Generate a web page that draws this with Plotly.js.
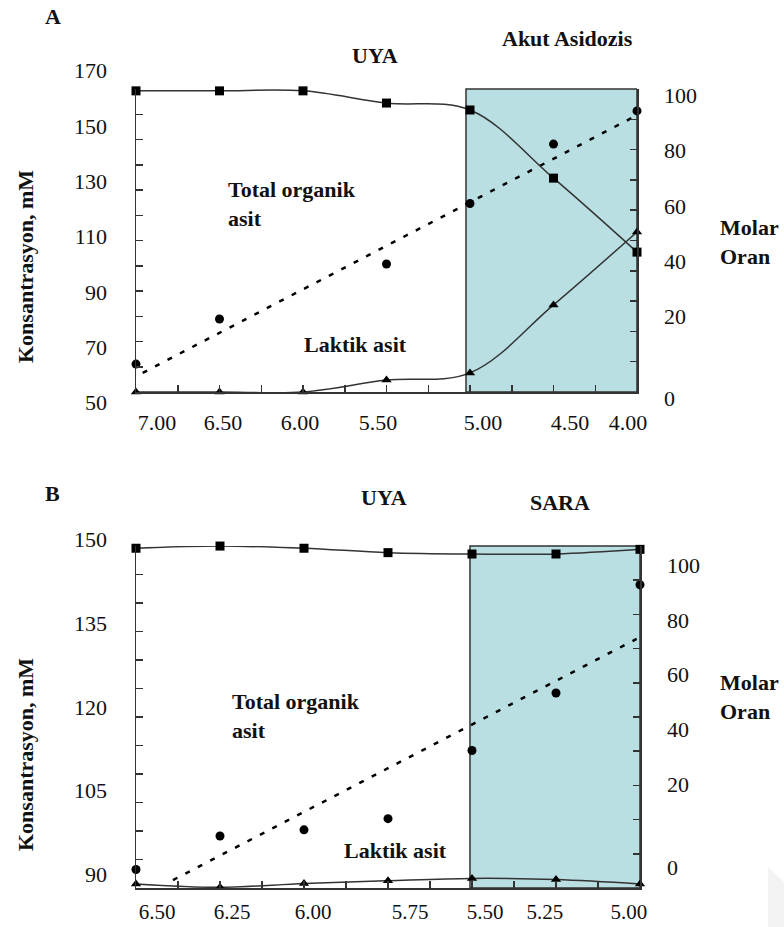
<!DOCTYPE html>
<html><head><meta charset="utf-8">
<script src="https://cdn.plot.ly/plotly-3.0.1.min.js"></script>
<style>html,body{margin:0;padding:0;background:#fff}#chart{width:784px;height:927px}</style>
</head><body><div id="chart"></div>
<script>
// ---------- Panel A ----------
const phA = [7.0, 6.5, 6.0, 5.5, 5.0, 4.5, 4.0];
const totalA = [63.9, 80.2, null, 100.1, 122.0, 143.5, 155.5];
const lacticA = [53.8, 53.8, 53.8, 58.1, 60.7, 85.3, 111.7];
const molarA = [101.5, 101.5, 101.5, 97.1, 94.6, 70.0, 43.3];
const trendXA = [6.96, 4.02];
const trendYA = [60.7, 153.3];
const xTickTextA = ['7.00', '6.50', '6.00', '5.50', '5.00', '4.50', '4.00'];
const leftTicksA = [50, 70, 90, 110, 130, 150, 170];
const rightTickTextA = ['0', '20', '40', '60', '80', '100'];
// ---------- Panel B ----------
const phB = [6.50, 6.25, 6.00, 5.75, 5.50, 5.25, 5.00];
const totalB = [90.9, 96.9, 98.0, 100.0, 112.2, 122.5, 141.9];
const lacticB = [88.3, 87.7, 88.4, 88.9, 89.3, 89.1, 88.3];
const molarB = [106.1, 106.9, 106.1, 104.5, 104.0, 104.0, 105.7];
const trendXB = [6.39, 5.01];
const trendYB = [89.0, 132.2];
const xTickTextB = ['6.50', '6.25', '6.00', '5.75', '5.50', '5.25', '5.00'];
const leftTicksB = [90, 105, 120, 135, 150];
const rightTickTextB = ['0', '20', '40', '60', '80', '100'];

const W = 784, H = 927;
const fx = p => p / W;
const fy = p => 1 - p / H;
const SERIF = 'Liberation Serif, Times New Roman, DejaVu Serif, serif';
const INK = '#333333';

function frameY(range, n, extra) {
  return Object.assign({
    range: range, showline: true, linecolor: INK, linewidth: 1.5,
    ticks: 'inside', ticklen: 7, tickwidth: 1.5, tickcolor: INK,
    tickmode: 'linear', tick0: range[0], dtick: (range[1] - range[0]) / n,
    showticklabels: false, showgrid: false, zeroline: false, fixedrange: true
  }, extra);
}
function frameX(range, dtick, extra) {
  return Object.assign({
    range: range, showline: true, linecolor: INK, linewidth: 1.5,
    ticks: 'inside', ticklen: 7, tickwidth: 1.5, tickcolor: INK,
    tickmode: 'linear', tick0: range[1], dtick: dtick,
    showticklabels: false, showgrid: false, zeroline: false, fixedrange: true
  }, extra);
}
function labelAxis(range, extra) {
  return Object.assign({
    range: range, showline: false, ticks: '', showgrid: false, zeroline: false,
    tickmode: 'array', tickfont: {family: SERIF, size: 22, color: '#111'},
    fixedrange: true
  }, extra);
}

const markerCol = '#000';
function traces(ph, total, lactic, molar, tx, ty, xa, ya, ya2) {
  return [
    {x: tx, y: ty, xaxis: xa, yaxis: ya, mode: 'lines', type: 'scatter',
     line: {color: '#000', width: 2.5, dash: '5px,9px'}, hoverinfo: 'skip', cliponaxis: false},
    {x: ph, y: total, xaxis: xa, yaxis: ya, mode: 'markers', type: 'scatter',
     marker: {symbol: 'circle', size: 9, color: markerCol}, cliponaxis: false},
    {x: ph, y: lactic, xaxis: xa, yaxis: ya, mode: 'lines+markers', type: 'scatter',
     line: {color: INK, width: 1.5, shape: 'spline', smoothing: 1},
     marker: {symbol: 'triangle-up', size: 9, color: markerCol}, cliponaxis: false},
    {x: ph, y: molar, xaxis: xa, yaxis: ya2, mode: 'lines+markers', type: 'scatter',
     line: {color: INK, width: 1.5, shape: 'spline', smoothing: 1},
     marker: {symbol: 'square', size: 9, color: markerCol}, cliponaxis: false}
  ];
}
// placeholder traces so the label-only axes get drawn (no visible marks)
function holder(xa, ya) {
  return {x: [null], y: [null], xaxis: xa, yaxis: ya, mode: 'markers', type: 'scatter',
          marker: {size: 1, opacity: 0}, hoverinfo: 'skip'};
}

const data = [].concat(
  traces(phA, totalA, lacticA, molarA, trendXA, trendYA, 'x', 'y', 'y2'),
  traces(phB, totalB, lacticB, molarB, trendXB, trendYB, 'x3', 'y5', 'y6'),
  [holder('x2', 'y3'), holder('x2', 'y4'), holder('x4', 'y7'), holder('x4', 'y8')]
);

function ann(text, px, py, opts) {
  return Object.assign({
    text: text, x: fx(px), y: fy(py), xref: 'paper', yref: 'paper',
    showarrow: false, xanchor: 'center', yanchor: 'middle',
    font: {family: SERIF, size: 22, color: '#111', weight: 'bold'}
  }, opts || {});
}

const layout = {
  width: W, height: H,
  margin: {l: 0, r: 0, t: 0, b: 0},
  paper_bgcolor: '#fff', plot_bgcolor: 'rgba(0,0,0,0)',
  showlegend: false,
  font: {family: SERIF, size: 22, color: '#111'},
  // Panel A frame (data axes)
  xaxis: frameX([7, 4], 0.25, {domain: [fx(136), fx(637)], anchor: 'y'}),
  yaxis: frameY([53.79, 163.42], 12, {domain: [fy(392), fy(89)], anchor: 'x'}),
  yaxis2: frameY([-7.18, 102.17], 10, {domain: [fy(392), fy(89)], anchor: 'x', overlaying: 'y', side: 'right'}),
  // Panel A labels
  xaxis2: labelAxis([7, 4], {domain: [fx(136), fx(637)], anchor: 'y3',
    tickvals: [6.874, 6.479, 6.018, 5.551, 4.922, 4.401, 4.054], ticktext: xTickTextA, ticklabelstandoff: 3}),
  yaxis3: labelAxis([49.45, 173.18], {domain: [fy(404), fy(62)], anchor: 'x2',
    tickvals: leftTicksA, ticktext: leftTicksA.map(String), ticklabelstandoff: 28}),
  yaxis4: labelAxis([-11.51, 111.91], {domain: [fy(404), fy(62)], anchor: 'x2', overlaying: 'y3', side: 'right',
    tickvals: [-9.35, 20, 40, 60, 80, 100], ticktext: rightTickTextA, ticklabelstandoff: 26}),
  // Panel B frame (data axes)
  xaxis3: frameX([6.5, 5.0], 0.125, {domain: [fx(136), fx(640)], anchor: 'y5'}),
  yaxis5: frameY([87.58, 148.84], 12, {domain: [fy(888), fy(546)], anchor: 'x3'}),
  yaxis6: frameY([-17.71, 106.92], 10, {domain: [fy(888), fy(546)], anchor: 'x3', overlaying: 'y5', side: 'right'}),
  // Panel B labels
  xaxis4: labelAxis([6.5, 5.0], {domain: [fx(136), fx(640)], anchor: 'y7',
    tickvals: [6.4375, 6.214, 5.973, 5.6845, 5.461, 5.283, 5.033], ticktext: xTickTextB, ticklabelstandoff: 4,
    tickfont: {family: SERIF, size: 21, color: '#111'}}),
  yaxis7: labelAxis([86.68, 151.70], {domain: [fy(893), fy(530)], anchor: 'x4',
    tickvals: leftTicksB, ticktext: leftTicksB.map(String), ticklabelstandoff: 28}),
  yaxis8: labelAxis([-19.53, 112.76], {domain: [fy(893), fy(530)], anchor: 'x4', overlaying: 'y7', side: 'right',
    tickvals: [-10.24, 20, 40, 60, 80, 100], ticktext: rightTickTextB, ticklabelstandoff: 26}),
  shapes: [
    {type: 'rect', xref: 'x', yref: 'y domain', x0: 5.024, x1: 4.0, y0: 0, y1: 1,
     fillcolor: '#b9dfe3', line: {color: INK, width: 1.5}, layer: 'below'},
    {type: 'rect', xref: 'x3', yref: 'y5 domain', x0: 5.506, x1: 5.0, y0: 0, y1: 1,
     fillcolor: '#b9dfe3', line: {color: INK, width: 1.5}, layer: 'below'},
    // faint watermark fragment at the lower right corner
    {type: 'path', xref: 'paper', yref: 'paper',
     path: 'M ' + fx(768) + ' ' + fy(867) + ' L ' + fx(784) + ' ' + fy(882) + ' L ' + fx(784) + ' ' + fy(927) +
           ' L ' + fx(768) + ' ' + fy(927) + ' Z',
     fillcolor: '#f3f3f3', line: {width: 0}, layer: 'below'}
  ],
  annotations: [
    ann('A', 53, 17),
    ann('UYA', 375, 55),
    ann('Akut Asidozis', 567, 38),
    ann('Total organik<br>asit', 226, 204, {xanchor: 'left', align: 'left'}),
    ann('Laktik asit', 355, 344),
    ann('Molar<br>Oran', 718, 242, {xanchor: 'left', align: 'left'}),
    ann('Konsantrasyon, mM', 25, 267, {textangle: -90}),
    ann('B', 52, 493),
    ann('UYA', 384, 497),
    ann('SARA', 560, 502),
    ann('Total organik<br>asit', 230, 716, {xanchor: 'left', align: 'left'}),
    ann('Laktik asit', 396, 850),
    ann('Molar<br>Oran', 718, 697, {xanchor: 'left', align: 'left'}),
    ann('Konsantrasyon, mM', 25, 755, {textangle: -90})
  ]
};

Plotly.newPlot('chart', data, layout, {staticPlot: true, displayModeBar: false});
</script>
</body></html>
